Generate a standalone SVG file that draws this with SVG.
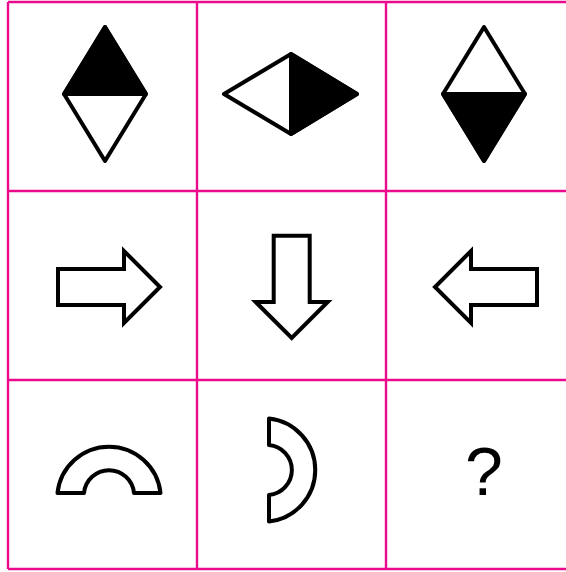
<svg xmlns="http://www.w3.org/2000/svg" width="566" height="572" viewBox="0 0 566 572">
<style>
.grid{stroke:#EB0A8C;stroke-width:2.4;fill:none}
.shape{stroke:#000;stroke-width:4;fill:#fff;stroke-linejoin:round}
.dark{stroke:#000;stroke-width:4;fill:#000;stroke-linejoin:round}
.arrow{stroke:#000;stroke-width:4;fill:#fff;stroke-linejoin:miter}
.q{font-family:"Liberation Sans",Arial,sans-serif;font-size:68px;fill:#000}
</style>
<rect width="566" height="572" fill="#fff"/>
<g id="grid" class="grid">
<line x1="8" y1="2" x2="566" y2="2"/>
<line x1="8" y1="191" x2="566" y2="191"/>
<line x1="8" y1="380" x2="566" y2="380"/>
<line x1="8" y1="569" x2="566" y2="569"/>
<line x1="8" y1="2" x2="8" y2="569"/>
<line x1="197" y1="2" x2="197" y2="569"/>
<line x1="386" y1="2" x2="386" y2="569"/>
</g>
<g id="cell1">
<polygon class="shape" points="105,27 146,94 105,161 64,94"/>
<polygon class="dark" points="105,27 146,94 64,94"/>
</g>
<g id="cell2">
<polygon class="shape" points="224,94 291,54 357,94 291,134"/>
<polygon class="dark" points="291,54 357,94 291,134"/>
</g>
<g id="cell3">
<polygon class="shape" points="484,27 525,94 484,161 443,94"/>
<polygon class="dark" points="443,94 525,94 484,161"/>
</g>
<g id="cell4">
<polygon class="arrow" points="58,269 124,269 124,251 160,287 124,323 124,305 58,305"/>
</g>
<g id="cell5">
<polygon class="arrow" points="273.7,235.7 309.7,235.7 309.7,302 327.7,302 291.7,338 255.7,302 273.7,302"/>
</g>
<g id="cell6">
<polygon class="arrow" points="537,269 471,269 471,251 435,287 471,323 471,305 537,305"/>
</g>
<g id="cell7">
<path class="shape" d="M57.5,493 A51.8,51.8 0 0 1 160.5,493 L134,493 A25.1,25.1 0 0 0 84,493 Z"/>
</g>
<g id="cell8">
<path class="shape" d="M269,418.5 A51.8,51.8 0 0 1 269,521.5 L269,495 A25.1,25.1 0 0 0 269,445 Z"/>
</g>
<g id="cell9">
<text class="q" x="484" y="495" text-anchor="middle">?</text>
</g>
</svg>
